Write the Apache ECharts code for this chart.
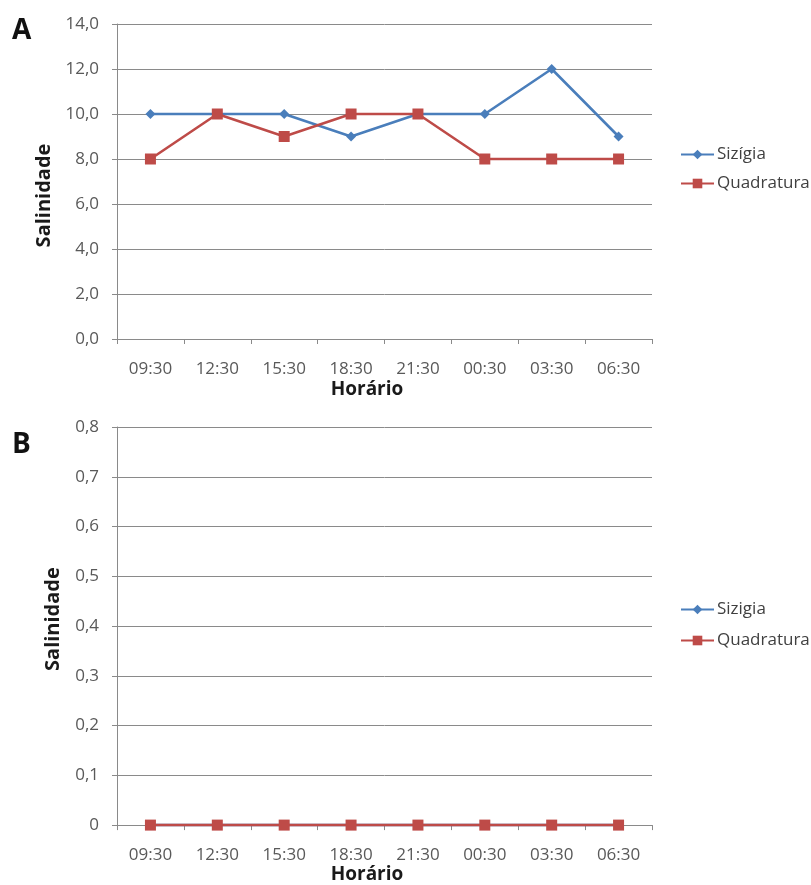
<!DOCTYPE html>
<html>
<head>
<meta charset="utf-8">
<script src="https://cdn.jsdelivr.net/npm/echarts@6/dist/echarts.min.js"></script>
<style>
  html, body { margin: 0; padding: 0; background: #ffffff; }
  #chart { width: 811px; height: 885px; }
</style>
</head>
<body>
<div id="chart"></div>
<script>
// Sampling times (shared by both panels)
const horarios = ['09:30', '12:30', '15:30', '18:30', '21:30', '00:30', '03:30', '06:30'];

// Panel A — salinity
const sizigiaA = [10, 10, 10, 9, 10, 10, 12, 9];
const quadraturaA = [8, 10, 9, 10, 10, 8, 8, 8];

// Panel B — salinity
const sizigiaB = [0, 0, 0, 0, 0, 0, 0, 0];
const quadraturaB = [0, 0, 0, 0, 0, 0, 0, 0];

// Axis ranges
const yA = { min: 0, max: 14, interval: 2 };
const yB = { min: 0, max: 0.8, interval: 0.1 };

const FONT = '"Open Sans", "Noto Sans", sans-serif';
const BLUE = '#4a7ebb';
const RED = '#be4b48';
const GRID_GRAY = '#8a8a8a';
const LABEL_GRAY = '#595959';

const fmtA = v => v.toFixed(1).replace('.', ',');
const fmtB = v => (v === 0 ? '0' : v.toFixed(1).replace('.', ','));

function xAxisFor(gridIndex, nameGap) {
  return {
    type: 'category',
    gridIndex,
    data: horarios,
    boundaryGap: true,
    name: 'Horário',
    nameLocation: 'middle',
    nameGap,
    nameTextStyle: { fontFamily: FONT, fontSize: 19, fontWeight: 'bold', color: '#1a1a1a', padding: [0, 35, 0, 0] },
    axisLine: { show: true, lineStyle: { color: GRID_GRAY, width: 1 } },
    axisTick: { show: true, length: 5, lineStyle: { color: GRID_GRAY } },
    axisLabel: { fontFamily: FONT, fontSize: 17, color: LABEL_GRAY, margin: 22, interval: 0 },
    splitLine: { show: false }
  };
}

function yAxisFor(gridIndex, range, fmt, nameGap, namePad) {
  return {
    type: 'value',
    gridIndex,
    min: range.min,
    max: range.max,
    interval: range.interval,
    name: 'Salinidade',
    nameLocation: 'middle',
    nameGap,
    nameTextStyle: { fontFamily: FONT, fontSize: 20, fontWeight: 'bold', color: '#1a1a1a', padding: namePad },
    axisLine: { show: true, lineStyle: { color: GRID_GRAY, width: 1 } },
    axisTick: { show: true, length: 5, lineStyle: { color: GRID_GRAY } },
    axisLabel: { fontFamily: FONT, fontSize: 17, color: LABEL_GRAY, margin: 18, formatter: fmt },
    splitLine: { show: true, lineStyle: { color: GRID_GRAY, width: 1 } }
  };
}

function seriesFor(name, data, idx, kind) {
  const blue = kind === 'blue';
  return {
    name,
    type: 'line',
    xAxisIndex: idx,
    yAxisIndex: idx,
    data,
    symbol: blue ? 'diamond' : 'rect',
    symbolSize: blue ? 10 : 11,
    showSymbol: true,
    lineStyle: { color: blue ? BLUE : RED, width: 2.6 },
    itemStyle: { color: blue ? BLUE : RED },
    emphasis: { disabled: true },
    animation: false
  };
}

const legendBase = {
  orient: 'vertical',
  left: 675,
  itemWidth: 33,
  itemHeight: 12,
  itemGap: 12,
  textStyle: { fontFamily: FONT, fontSize: 17, color: '#404040', padding: [0, 0, 0, -2] }
};

const chart = echarts.init(document.getElementById('chart'), null, { renderer: 'canvas' });

chart.setOption({
  backgroundColor: '#ffffff',
  animation: false,
  title: [
    { text: 'A', left: 7, top: 12, textStyle: { fontFamily: FONT, fontSize: 28, fontWeight: 'bold', color: '#111' } },
    { text: 'B', left: 7, top: 426, textStyle: { fontFamily: FONT, fontSize: 28, fontWeight: 'bold', color: '#111' } }
  ],
  grid: [
    { left: 117, top: 24, width: 535, height: 315 },
    { left: 117, top: 427, width: 535, height: 400 }
  ],
  xAxis: [xAxisFor(0, 41), xAxisFor(1, 37)],
  yAxis: [
    yAxisFor(0, yA, fmtA, 58, [0, 28, 0, 0]),
    yAxisFor(1, yB, fmtB, 54, [0, 0, 0, 14])
  ],
  legend: [
    Object.assign({}, legendBase, { top: 141, data: ['Sizígia', 'Quadratura'] }),
    Object.assign({}, legendBase, { top: 596, itemGap: 14, data: ['Sizigia', 'Quadratura B'],
      formatter: n => n.replace(' B', '') })
  ],
  series: [
    seriesFor('Sizígia', sizigiaA, 0, 'blue'),
    seriesFor('Quadratura', quadraturaA, 0, 'red'),
    seriesFor('Sizigia', sizigiaB, 1, 'blue'),
    seriesFor('Quadratura B', quadraturaB, 1, 'red')
  ]
});
</script>
</body>
</html>
